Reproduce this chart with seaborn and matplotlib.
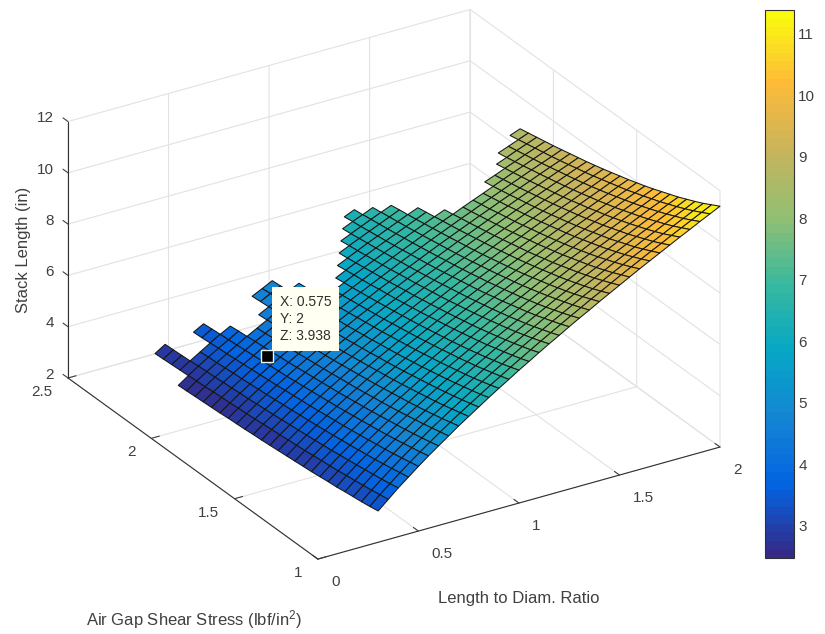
import numpy as np
import matplotlib
matplotlib.use("Agg")
import matplotlib.pyplot as plt
from matplotlib.colors import ListedColormap
from mpl_toolkits.mplot3d import proj3d
import seaborn as sns

# -------------------------------
# Data
# -------------------------------
ratio = [0.30, 0.35, 0.40, 0.45, 0.50, 0.55, 0.60, 0.65, 0.70, 0.75, 0.80, 0.85,
         0.90, 0.95, 1.00, 1.05, 1.10, 1.15, 1.20, 1.25, 1.30, 1.35, 1.40, 1.45,
         1.50, 1.55, 1.60, 1.65, 1.70, 1.75, 1.80, 1.85, 1.90, 1.95, 2.00]
stress = [1.00, 1.05, 1.10, 1.15, 1.20, 1.25, 1.30, 1.35, 1.40, 1.45, 1.50, 1.55,
          1.60, 1.65, 1.70, 1.75, 1.80, 1.85, 1.90, 1.95, 2.00, 2.05, 2.10, 2.15,
          2.20, 2.25, 2.30, 2.35, 2.40]

# highest feasible stress for each ratio (the jagged back edge)
stress_limit = [2.20, 2.40, 2.40, 2.25, 2.40, 2.35, 2.25, 2.15, 2.20, 2.30, 2.35, 2.30,
                2.20, 2.05, 2.10, 2.15, 2.20, 2.25, 2.30, 2.35, 2.40, 2.30, 2.25, 2.15,
                2.05, 2.00, 2.00, 2.00, 2.05, 2.05, 2.10, 2.15, 2.15, 2.20, 2.20]

# stack length, one row per stress value
stack_length = [
    [3.22, 3.56, 3.90, 4.21, 4.52, 4.82, 5.10, 5.38, 5.66, 5.92, 6.18, 6.44, 6.69, 6.93, 7.18, 7.41, 7.65, 7.88, 8.10, 8.33, 8.55, 8.76, 8.98, 9.19, 9.40, 9.61, 9.82, 10.02, 10.22, 10.42, 10.62, 10.81, 11.01, 11.20, 11.39],
    [3.16, 3.51, 3.83, 4.15, 4.45, 4.74, 5.02, 5.30, 5.57, 5.83, 6.08, 6.33, 6.58, 6.82, 7.06, 7.29, 7.52, 7.75, 7.97, 8.19, 8.41, 8.62, 8.84, 9.04, 9.25, 9.46, 9.66, 9.86, 10.06, 10.25, 10.45, 10.64, 10.83, 11.02, 11.21],
    [3.11, 3.45, 3.77, 4.08, 4.38, 4.67, 4.94, 5.22, 5.48, 5.74, 5.99, 6.24, 6.48, 6.72, 6.95, 7.18, 7.41, 7.63, 7.85, 8.07, 8.28, 8.49, 8.70, 8.90, 9.11, 9.31, 9.51, 9.71, 9.90, 10.09, 10.28, 10.47, 10.66, 10.85, 11.03],
    [3.07, 3.40, 3.72, 4.02, 4.31, 4.60, 4.87, 5.14, 5.40, 5.65, 5.90, 6.15, 6.38, 6.62, 6.85, 7.08, 7.30, 7.52, 7.73, 7.95, 8.16, 8.37, 8.57, 8.77, 8.97, 9.17, 9.37, 9.56, 9.75, 9.95, 10.13, 10.32, 10.51, 10.69, 10.87],
    [3.03, 3.35, 3.67, 3.96, 4.25, 4.53, 4.80, 5.07, 5.32, 5.57, 5.82, 6.06, 6.29, 6.52, 6.75, 6.98, 7.20, 7.41, 7.62, 7.83, 8.04, 8.25, 8.45, 8.65, 8.85, 9.04, 9.24, 9.43, 9.62, 9.81, 9.99, 10.18, 10.36, 10.54, 10.72],
    [2.98, 3.31, 3.62, 3.91, 4.20, 4.47, 4.74, 5.00, 5.25, 5.50, 5.74, 5.98, 6.21, 6.44, 6.66, 6.88, 7.10, 7.31, 7.52, 7.73, 7.93, 8.14, 8.34, 8.53, 8.73, 8.92, 9.11, 9.30, 9.49, 9.67, 9.86, 10.04, 10.22, 10.40, 10.57],
    [2.95, 3.26, 3.57, 3.86, 4.14, 4.41, 4.68, 4.93, 5.18, 5.43, 5.67, 5.90, 6.13, 6.35, 6.57, 6.79, 7.01, 7.22, 7.42, 7.63, 7.83, 8.03, 8.23, 8.42, 8.62, 8.81, 8.99, 9.18, 9.36, 9.55, 9.73, 9.91, 10.09, 10.26, 10.44],
    [2.91, 3.22, 3.53, 3.81, 4.09, 4.36, 4.62, 4.87, 5.12, 5.36, 5.60, 5.83, 6.05, 6.28, 6.49, 6.71, 6.92, 7.13, 7.33, 7.54, 7.73, 7.93, 8.13, 8.32, 8.51, 8.70, 8.88, 9.07, 9.25, 9.43, 9.61, 9.79, 9.96, 10.14, 10.31],
    [2.87, 3.19, 3.48, 3.77, 4.04, 4.31, 4.56, 4.81, 5.06, 5.29, 5.53, 5.75, 5.98, 6.20, 6.41, 6.63, 6.83, 7.04, 7.24, 7.44, 7.64, 7.83, 8.03, 8.22, 8.40, 8.59, 8.77, 8.96, 9.14, 9.31, 9.49, 9.67, 9.84, 10.01, 10.18],
    [2.84, 3.15, 3.44, 3.72, 3.99, 4.26, 4.51, 4.76, 5.00, 5.23, 5.46, 5.69, 5.91, 6.13, 6.34, 6.55, 6.76, 6.96, 7.16, 7.36, 7.55, 7.74, 7.93, 8.12, 8.31, 8.49, 8.67, 8.85, 9.03, 9.21, 9.38, 9.55, 9.73, 9.90, 10.06],
    [2.81, 3.11, 3.40, 3.68, 3.95, 4.21, 4.46, 4.70, 4.94, 5.17, 5.40, 5.62, 5.84, 6.06, 6.27, 6.48, 6.68, 6.88, 7.08, 7.27, 7.47, 7.66, 7.84, 8.03, 8.21, 8.40, 8.57, 8.75, 8.93, 9.10, 9.28, 9.45, 9.62, 9.78, 9.95],
    [2.78, 3.08, 3.37, 3.64, 3.91, 4.16, 4.41, 4.65, 4.89, 5.12, 5.34, 5.56, 5.78, 5.99, 6.20, 6.41, 6.61, 6.81, 7.00, 7.19, 7.38, 7.57, 7.76, 7.94, 8.12, 8.30, 8.48, 8.66, 8.83, 9.00, 9.17, 9.34, 9.51, 9.68, 9.84],
    [2.75, 3.05, 3.33, 3.60, 3.86, 4.12, 4.36, 4.60, 4.84, 5.06, 5.29, 5.50, 5.72, 5.93, 6.13, 6.34, 6.54, 6.73, 6.93, 7.12, 7.31, 7.49, 7.68, 7.86, 8.04, 8.22, 8.39, 8.57, 8.74, 8.91, 9.08, 9.25, 9.41, 9.58, 9.74],
    [2.72, 3.02, 3.30, 3.57, 3.82, 4.08, 4.32, 4.56, 4.79, 5.01, 5.23, 5.45, 5.66, 5.87, 6.07, 6.27, 6.47, 6.66, 6.86, 7.05, 7.23, 7.42, 7.60, 7.78, 7.96, 8.13, 8.31, 8.48, 8.65, 8.82, 8.98, 9.15, 9.31, 9.48, 9.64],
    [2.69, 2.99, 3.26, 3.53, 3.79, 4.04, 4.28, 4.51, 4.74, 4.96, 5.18, 5.39, 5.60, 5.81, 6.01, 6.21, 6.41, 6.60, 6.79, 6.98, 7.16, 7.34, 7.52, 7.70, 7.88, 8.05, 8.22, 8.39, 8.56, 8.73, 8.89, 9.06, 9.22, 9.38, 9.54],
    [2.67, 2.96, 3.23, 3.50, 3.75, 4.00, 4.24, 4.47, 4.69, 4.91, 5.13, 5.34, 5.55, 5.75, 5.95, 6.15, 6.34, 6.54, 6.72, 6.91, 7.09, 7.27, 7.45, 7.63, 7.80, 7.97, 8.14, 8.31, 8.48, 8.65, 8.81, 8.97, 9.13, 9.29, 9.45],
    [2.64, 2.93, 3.20, 3.46, 3.72, 3.96, 4.20, 4.43, 4.65, 4.87, 5.08, 5.29, 5.50, 5.70, 5.90, 6.09, 6.29, 6.47, 6.66, 6.84, 7.03, 7.20, 7.38, 7.56, 7.73, 7.90, 8.07, 8.24, 8.40, 8.57, 8.73, 8.89, 9.05, 9.21, 9.36],
    [2.62, 2.90, 3.17, 3.43, 3.68, 3.92, 4.16, 4.39, 4.61, 4.82, 5.04, 5.24, 5.45, 5.65, 5.84, 6.04, 6.23, 6.42, 6.60, 6.78, 6.96, 7.14, 7.32, 7.49, 7.66, 7.83, 8.00, 8.16, 8.33, 8.49, 8.65, 8.81, 8.97, 9.12, 9.28],
    [2.60, 2.88, 3.14, 3.40, 3.65, 3.89, 4.12, 4.35, 4.57, 4.78, 4.99, 5.20, 5.40, 5.60, 5.79, 5.99, 6.17, 6.36, 6.54, 6.72, 6.90, 7.08, 7.25, 7.42, 7.59, 7.76, 7.92, 8.09, 8.25, 8.41, 8.57, 8.73, 8.89, 9.04, 9.20],
    [2.57, 2.85, 3.12, 3.37, 3.62, 3.86, 4.09, 4.31, 4.53, 4.74, 4.95, 5.15, 5.35, 5.55, 5.74, 5.93, 6.12, 6.30, 6.49, 6.67, 6.84, 7.02, 7.19, 7.36, 7.53, 7.69, 7.86, 8.02, 8.18, 8.34, 8.50, 8.66, 8.81, 8.96, 9.12],
    [2.55, 2.83, 3.09, 3.34, 3.59, 3.82, 4.05, 4.27, 4.49, 4.70, 4.91, 5.11, 5.31, 5.50, 5.69, 5.88, 6.07, 6.25, 6.43, 6.61, 6.78, 6.96, 7.13, 7.30, 7.46, 7.63, 7.79, 7.95, 8.11, 8.27, 8.43, 8.58, 8.74, 8.89, 9.04],
    [2.53, 2.81, 3.07, 3.32, 3.56, 3.79, 4.02, 4.24, 4.45, 4.66, 4.87, 5.07, 5.27, 5.46, 5.65, 5.84, 6.02, 6.20, 6.38, 6.55, 6.73, 6.90, 7.07, 7.24, 7.40, 7.57, 7.73, 7.89, 8.05, 8.20, 8.36, 8.51, 8.67, 8.82, 8.97],
    [2.51, 2.78, 3.04, 3.29, 3.53, 3.76, 3.99, 4.20, 4.42, 4.63, 4.83, 5.03, 5.22, 5.42, 5.60, 5.79, 5.97, 6.15, 6.33, 6.50, 6.67, 6.84, 7.01, 7.18, 7.34, 7.51, 7.67, 7.82, 7.98, 8.14, 8.29, 8.44, 8.60, 8.75, 8.90],
    [2.49, 2.76, 3.02, 3.26, 3.50, 3.73, 3.96, 4.17, 4.38, 4.59, 4.79, 4.99, 5.18, 5.37, 5.56, 5.74, 5.92, 6.10, 6.28, 6.45, 6.62, 6.79, 6.96, 7.12, 7.29, 7.45, 7.61, 7.76, 7.92, 8.07, 8.23, 8.38, 8.53, 8.68, 8.83],
    [2.47, 2.74, 3.00, 3.24, 3.48, 3.70, 3.93, 4.14, 4.35, 4.55, 4.75, 4.95, 5.14, 5.33, 5.52, 5.70, 5.88, 6.06, 6.23, 6.40, 6.57, 6.74, 6.91, 7.07, 7.23, 7.39, 7.55, 7.70, 7.86, 8.01, 8.16, 8.32, 8.46, 8.61, 8.76],
    [2.45, 2.72, 2.97, 3.21, 3.45, 3.68, 3.89, 4.11, 4.32, 4.52, 4.72, 4.91, 5.10, 5.29, 5.48, 5.66, 5.83, 6.01, 6.18, 6.35, 6.52, 6.69, 6.85, 7.01, 7.17, 7.33, 7.49, 7.65, 7.80, 7.95, 8.10, 8.25, 8.40, 8.55, 8.69],
    [2.44, 2.70, 2.95, 3.19, 3.42, 3.65, 3.87, 4.08, 4.29, 4.49, 4.68, 4.88, 5.07, 5.25, 5.44, 5.62, 5.79, 5.97, 6.14, 6.31, 6.47, 6.64, 6.80, 6.96, 7.12, 7.28, 7.44, 7.59, 7.74, 7.89, 8.04, 8.19, 8.34, 8.48, 8.63],
    [2.42, 2.68, 2.93, 3.17, 3.40, 3.62, 3.84, 4.05, 4.26, 4.46, 4.65, 4.84, 5.03, 5.22, 5.40, 5.58, 5.75, 5.92, 6.09, 6.26, 6.43, 6.59, 6.75, 6.91, 7.07, 7.23, 7.38, 7.54, 7.69, 7.84, 7.99, 8.13, 8.28, 8.42, 8.57],
    [2.40, 2.66, 2.91, 3.15, 3.38, 3.60, 3.81, 4.02, 4.23, 4.42, 4.62, 4.81, 5.00, 5.18, 5.36, 5.54, 5.71, 5.88, 6.05, 6.22, 6.38, 6.55, 6.71, 6.87, 7.02, 7.18, 7.33, 7.48, 7.63, 7.78, 7.93, 8.08, 8.22, 8.36, 8.51],
]

x_ticks = [0, 0.5, 1, 1.5, 2]
y_ticks = [1, 1.5, 2, 2.5]
z_ticks = [2, 4, 6, 8, 10, 12]
cbar_ticks = [3, 4, 5, 6, 7, 8, 9, 10, 11]
tip_x, tip_y, tip_z = 0.575, 2, 3.938

# -------------------------------
# Style
# -------------------------------
sns.set_theme(style="white", font="Liberation Sans")
plt.rcParams['mathtext.default'] = 'regular'
parula = ListedColormap(sns.blend_palette(
    ["#352a87", "#0363e1", "#1485d4", "#06a7c6", "#38b99e",
     "#92bf73", "#c9b45c", "#fdbb38", "#f9fb0e"], 64))
text_color = "#404040"

# -------------------------------
# Surface, one strip per ratio step so the edge stays a staircase
# -------------------------------
fig = plt.figure(figsize=(8.25, 6.34), dpi=100)
ax = fig.add_axes([0.1, 0.1, 0.8, 0.8], projection='3d', computed_zorder=False)

X, Y = np.meshgrid(ratio, stress)
Z = np.array(stack_length)
stress_arr = np.array(stress)
for i in reversed(range(len(ratio) - 1)):
    keep = stress_arr <= min(stress_limit[i], stress_limit[i + 1]) + 1e-9
    surf = ax.plot_surface(X[keep][:, i:i + 2], Y[keep][:, i:i + 2], Z[keep][:, i:i + 2],
                           rstride=1, cstride=1, cmap=parula, vmin=2.47, vmax=11.39,
                           shade=False, edgecolor="#161616", linewidth=0.75, zorder=1)
ax.plot([tip_x], [tip_y], [tip_z], marker='s', ms=8, mfc='black', mec='#e8f4f4', mew=1, ls='', zorder=5)

ax.set_proj_type('ortho')
ax.view_init(elev=26.7, azim=-121.8)
ax.set_box_aspect((473, 474, 287))
ax.set_xlim(0, 2, view_margin=0)
ax.set_ylim(1, 2.5, view_margin=0)
ax.set_zlim(2, 12, view_margin=0)
ax.set_xticks(x_ticks)
ax.set_xticklabels(['0', '0.5', '1', '1.5', '2'], ha='left', va='center')
ax.set_yticks(y_ticks)
ax.set_yticklabels(['1', '1.5', '2', '2.5'], ha='right', va='center')
ax.set_zticks(z_ticks)
ax.set_zticklabels(['2', '4', '6', '8', '10', '12'], ha='right', va='top')
ax.tick_params(labelsize=11, colors=text_color)
ax.tick_params(axis='x', pad=6)
ax.tick_params(axis='y', pad=2)
ax.tick_params(axis='z', pad=7)

for axis in (ax.xaxis, ax.yaxis, ax.zaxis):
    axis.set_pane_color((1, 1, 1, 0))
    axis.pane.set_edgecolor((1, 1, 1, 0))
    axis.line.set_color("#303030")
    axis.line.set_linewidth(0.8)
    axis._axinfo['grid'].update(color="#e2e2e2", linewidth=0.8)
    axis._axinfo['tick'].update(inward_factor=0.0, outward_factor=0.25, linewidth={True: 0.8, False: 0.5}, color="#303030")

# z ticks and their labels lean up and left along y, as in the reference
ax.zaxis._get_tickdir = lambda pos: 1
ax.zaxis._axmask = lambda: [False, True, False]

# -------------------------------
# Fit the box to the reference pixels
# -------------------------------
def to_px(x, y, z):
    px, py, _ = proj3d.proj_transform(x, y, z, ax.get_proj())
    return ax.transData.transform((px, py))

fig.canvas.draw()
a = to_px(0, 2.5, 2)
b = to_px(2, 1, 2)
target_a = np.array([68, 634 - 378])
target_b = np.array([720, 634 - 447])
s = np.linalg.norm(target_b - target_a) / np.linalg.norm(b - a)
pos = ax.get_position()
c = np.array([(pos.x0 + pos.width / 2) * 825, (pos.y0 + pos.height / 2) * 634])
c_new = target_a - s * (a - c)
w, h = pos.width * s, pos.height * s
ax.set_position([c_new[0] / 825 - w / 2, c_new[1] / 634 - h / 2, w, h])

# -------------------------------
# Colorbar, labels, data tip
# -------------------------------
cax = fig.add_axes([765 / 825, 1 - 558 / 634, 29 / 825, 548 / 634])
cbar = fig.colorbar(surf, cax=cax, ticks=cbar_ticks)
cbar.ax.tick_params(labelsize=11, labelcolor=text_color, color="#303030", length=3, width=0.8, direction='in', pad=3)
cbar.outline.set_edgecolor("#303030")
cbar.outline.set_linewidth(0.8)

fig.text(24 / 825, 1 - 250 / 634, "Stack Length (in)", rotation=90, ha='center', va='center', fontsize=12, color=text_color)
fig.text(519 / 825, 1 - 599 / 634, "Length to Diam. Ratio", ha='center', va='center', fontsize=12, color=text_color)
fig.text(194 / 825, 1 - 620 / 634, "Air Gap Shear Stress (lbf/in$^2$)", ha='center', va='center', fontsize=12, color=text_color)
fig.text(280 / 825, 1 - 319 / 634, "X: 0.575\nY: 2\nZ: 3.938", ha='left', va='center', fontsize=10, color="#303030",
         linespacing=1.3, bbox=dict(boxstyle='square,pad=0.55', fc='#fffff2', ec='none'))

fig.savefig("out.png", dpi=100)
